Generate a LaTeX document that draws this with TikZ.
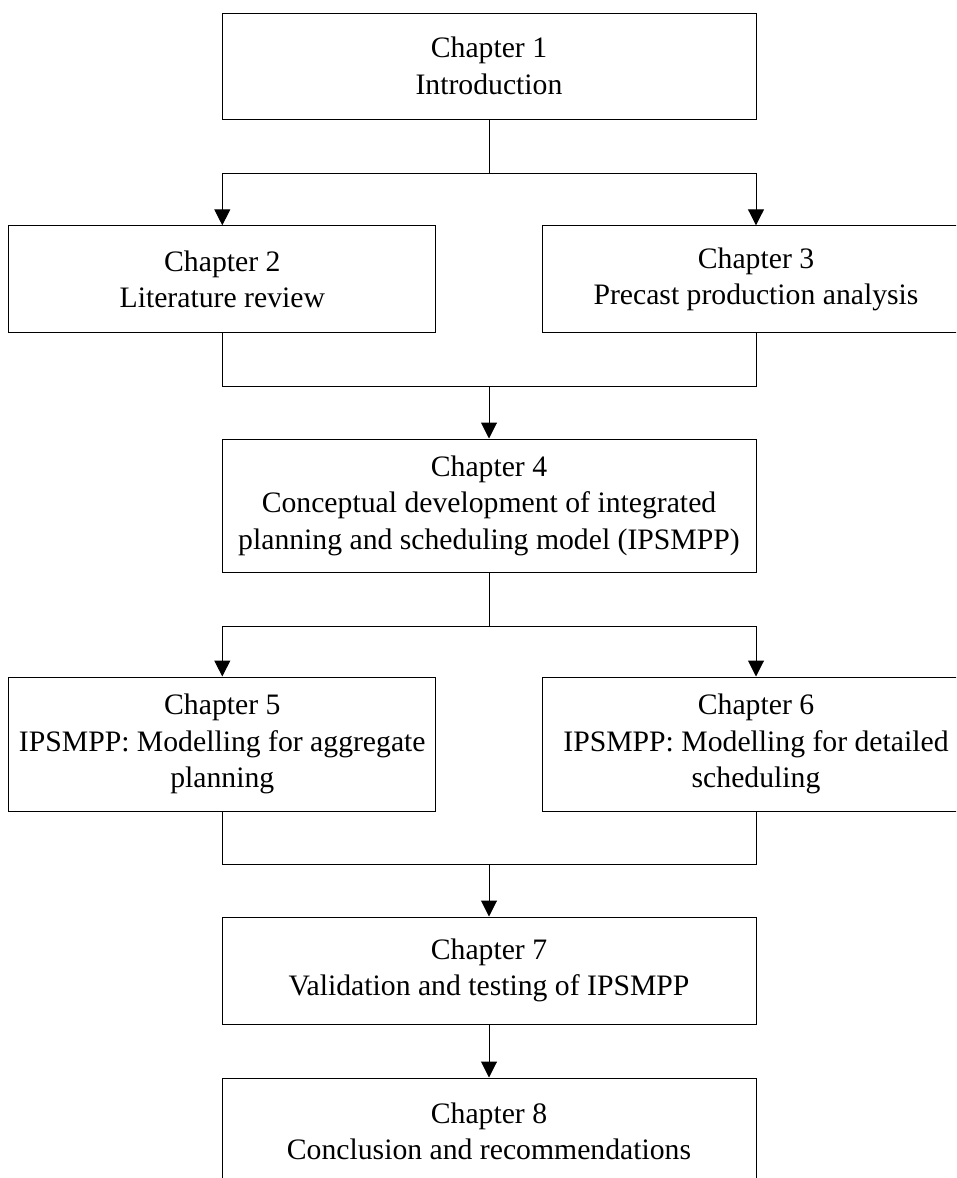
\documentclass[tikz,border=0pt]{standalone}
\usepackage{fontspec}
\setmainfont{Liberation Serif}
\usetikzlibrary{arrows.meta}
\begin{document}
\begin{tikzpicture}[x=1pt,y=1pt,
  box/.style={draw, line width=1pt, align=center, inner sep=0pt,
    font=\fontsize{29.7}{36.5}\selectfont},
  wide/.style={box, minimum width=534pt},
  half/.style={box, minimum width=427pt},
  link/.style={line width=1pt},
  arrow/.style={link, -{Triangle[length=16pt,width=16pt]}}]
  \useasboundingbox (0,0) rectangle (956,-1178);
  \clip (0,0) rectangle (956,-1178);
  % chapter boxes
  \node[wide, minimum height=106pt] (b1) at (489,-66) {Chapter 1\\Introduction};
  \node[half, minimum height=107pt] (b2) at (222.3,-279.3) {Chapter 2\\Literature review};
  \node[half, minimum height=107pt] (b3) at (756,-279.3) {Chapter 3\\Precast production analysis};
  \node[wide, minimum height=133pt] (b4) at (489,-505.5) {Chapter 4\\Conceptual development of integrated\\planning and scheduling model (IPSMPP)};
  \node[half, minimum height=134pt] (b5) at (222.3,-744) {Chapter 5\\IPSMPP: Modelling for aggregate\\planning};
  \node[half, minimum height=134pt] (b6) at (756,-744) {Chapter 6\\IPSMPP: Modelling for detailed\\scheduling};
  \node[wide, minimum height=107pt] (b7) at (489,-970.5) {Chapter 7\\Validation and testing of IPSMPP};
  \node[wide, minimum height=107pt] (b8) at (489,-1131.5) {Chapter 8\\Conclusion and recommendations};
  % junction points
  \coordinate (j1) at (489,-173);
  \coordinate (j2) at (489,-386);
  \coordinate (j3) at (489,-626);
  \coordinate (j4) at (489,-864);
  % split after chapter 1
  \draw[link] (b1.south) -- (j1);
  \draw[arrow] (j1) -| (b2.north);
  \draw[arrow] (j1) -| (b3.north);
  % merge into chapter 4
  \draw[link] (b2.south) |- (j2);
  \draw[link] (b3.south) |- (j2);
  \draw[arrow] (j2) -- (b4.north);
  % split after chapter 4
  \draw[link] (b4.south) -- (j3);
  \draw[arrow] (j3) -| (b5.north);
  \draw[arrow] (j3) -| (b6.north);
  % merge into chapter 7
  \draw[link] (b5.south) |- (j4);
  \draw[link] (b6.south) |- (j4);
  \draw[arrow] (j4) -- (b7.north);
  \draw[arrow] (b7.south) -- (b8.north);
\end{tikzpicture}
\end{document}
